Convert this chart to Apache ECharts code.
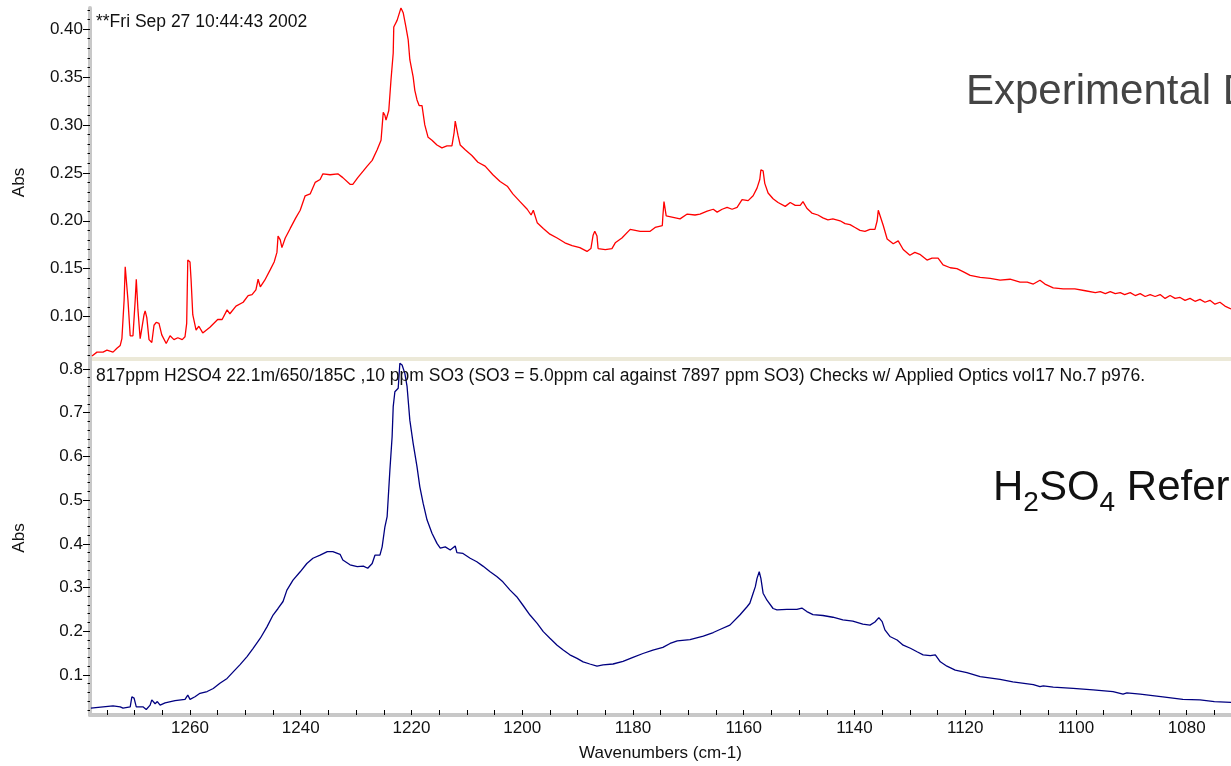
<!DOCTYPE html>
<html>
<head>
<meta charset="utf-8">
<title>H2SO4 IR spectra</title>
<script src="https://cdn.jsdelivr.net/npm/echarts@6/dist/echarts.min.js"></script>
<style>
  html, body { margin: 0; padding: 0; background: #fff; }
  #chart { width: 1231px; height: 766px; }
</style>
</head>
<body>
<div id="chart"></div>
<script>
// Experimental spectrum: [wavenumber (cm-1), absorbance]
const experimental = [
  [1277.7,0.059],[1276.8,0.063],[1275.7,0.063],[1275.0,0.065],[1273.9,0.063],[1273.2,0.067],[1272.6,0.070],[1272.3,0.077],
  [1271.9,0.117],[1271.7,0.152],[1271.4,0.152],[1271.2,0.117],[1270.8,0.080],[1270.3,0.080],[1269.9,0.117],[1269.7,0.139],
  [1269.6,0.139],[1269.4,0.107],[1269.0,0.077],[1268.7,0.077],[1268.3,0.102],[1268.1,0.106],[1267.8,0.099],[1267.4,0.076],
  [1266.9,0.073],[1266.5,0.091],[1266.1,0.094],[1265.6,0.093],[1265.1,0.081],[1264.3,0.072],[1263.6,0.080],[1262.9,0.076],
  [1262.2,0.078],[1261.4,0.076],[1260.9,0.079],[1260.6,0.093],[1260.4,0.159],[1260.0,0.157],[1259.8,0.138],[1259.5,0.102],
  [1258.9,0.086],[1258.4,0.090],[1257.7,0.083],[1256.4,0.089],[1255.0,0.097],[1254.2,0.097],[1253.3,0.107],[1252.8,0.103],
  [1251.7,0.111],[1250.4,0.115],[1249.5,0.122],[1248.8,0.123],[1248.1,0.128],[1247.7,0.139],[1247.3,0.131],[1246.5,0.138],
  [1245.5,0.149],[1244.8,0.157],[1244.3,0.167],[1244.1,0.184],[1243.7,0.180],[1243.4,0.172],[1242.8,0.182],[1241.9,0.192],
  [1240.9,0.203],[1240.1,0.211],[1239.2,0.226],[1238.3,0.228],[1237.4,0.240],[1236.5,0.243],[1236.0,0.249],[1234.7,0.248],
  [1233.3,0.249],[1232.4,0.245],[1231.1,0.238],[1230.6,0.238],[1229.7,0.245],[1228.7,0.252],[1228.0,0.257],[1227.1,0.263],
  [1226.2,0.274],[1225.5,0.284],[1225.1,0.313],[1224.8,0.310],[1224.6,0.305],[1224.1,0.315],[1223.7,0.347],[1223.3,0.375],
  [1223.2,0.402],[1222.6,0.409],[1222.3,0.409],[1221.9,0.422],[1221.5,0.417],[1221.0,0.402],[1220.6,0.389],[1220.3,0.368],
  [1219.7,0.350],[1219.4,0.336],[1219.0,0.326],[1218.6,0.320],[1218.1,0.320],[1217.6,0.300],[1217.0,0.287],[1216.3,0.284],
  [1215.4,0.279],[1214.5,0.276],[1213.6,0.278],[1212.7,0.278],[1212.3,0.292],[1212.1,0.304],[1211.8,0.304],[1211.6,0.289],
  [1211.2,0.279],[1210.3,0.274],[1209.1,0.268],[1208.0,0.261],[1206.7,0.257],[1205.3,0.248],[1204.0,0.241],[1202.7,0.236],
  [1201.7,0.228],[1200.4,0.220],[1199.1,0.212],[1198.4,0.206],[1198.0,0.211],[1197.7,0.209],[1197.3,0.198],[1196.2,0.192],
  [1195.0,0.186],[1193.7,0.182],[1192.3,0.177],[1191.0,0.174],[1189.6,0.172],[1188.3,0.168],[1187.6,0.171],[1187.2,0.185],
  [1186.9,0.189],[1186.5,0.184],[1186.3,0.171],[1185.0,0.170],[1183.8,0.171],[1183.2,0.177],[1182.0,0.182],[1180.5,0.191],
  [1178.7,0.189],[1176.9,0.189],[1176.0,0.193],[1174.7,0.195],[1174.6,0.205],[1174.4,0.220],[1174.2,0.218],[1174.0,0.205],
  [1173.7,0.203],[1171.5,0.202],[1170.2,0.207],[1168.8,0.206],[1167.9,0.207],[1166.6,0.210],[1165.5,0.212],[1164.8,0.209],
  [1163.9,0.212],[1163.0,0.214],[1162.1,0.212],[1161.2,0.214],[1160.3,0.222],[1159.2,0.221],[1158.3,0.226],[1157.6,0.234],
  [1157.1,0.243],[1156.9,0.253],[1156.5,0.252],[1156.2,0.239],[1155.6,0.229],[1154.7,0.223],[1153.8,0.219],[1152.5,0.215],
  [1151.6,0.219],[1150.7,0.216],[1149.8,0.216],[1149.3,0.220],[1148.6,0.213],[1147.7,0.208],[1146.6,0.206],[1145.7,0.203],
  [1144.8,0.201],[1143.9,0.202],[1142.6,0.200],[1141.7,0.197],[1140.8,0.196],[1139.9,0.193],[1139.0,0.190],[1138.1,0.189],
  [1137.2,0.191],[1136.3,0.191],[1135.9,0.200],[1135.7,0.211],[1135.4,0.211],[1134.8,0.195],[1134.1,0.181],[1133.0,0.176],
  [1132.1,0.179],[1131.2,0.170],[1130.0,0.164],[1129.1,0.167],[1128.2,0.165],[1126.9,0.159],[1126.0,0.161],[1124.9,0.161],
  [1124.0,0.154],[1122.7,0.151],[1121.5,0.150],[1120.4,0.147],[1119.1,0.143],[1117.3,0.141],[1115.5,0.140],[1113.7,0.138],
  [1111.9,0.139],[1110.1,0.136],[1108.8,0.136],[1107.7,0.134],[1106.5,0.138],[1105.6,0.134],[1104.1,0.130],[1102.3,0.129],
  [1100.2,0.129],[1098.3,0.127],[1096.5,0.125],[1095.6,0.126],[1094.7,0.124],[1093.8,0.126],[1092.9,0.124],[1092.0,0.125],
  [1091.2,0.123],[1090.2,0.125],[1089.3,0.122],[1088.4,0.124],[1087.5,0.121],[1086.6,0.123],[1085.7,0.121],[1084.8,0.123],
  [1083.9,0.119],[1083.0,0.122],[1082.1,0.119],[1081.2,0.120],[1080.3,0.117],[1079.4,0.119],[1078.5,0.116],[1077.6,0.118],
  [1076.7,0.115],[1075.8,0.117],[1074.9,0.113],[1074.0,0.115],[1073.1,0.111],[1072.0,0.108]
];

// H2SO4 reference spectrum: [wavenumber (cm-1), absorbance]
const reference = [
  [1277.9,0.024],[1275.7,0.027],[1273.9,0.029],[1272.6,0.027],[1272.1,0.024],[1270.8,0.027],[1270.5,0.050],[1270.1,0.047],
  [1269.7,0.027],[1268.5,0.027],[1267.9,0.021],[1267.2,0.031],[1266.9,0.043],[1266.3,0.034],[1265.9,0.039],[1265.4,0.031],
  [1264.5,0.036],[1262.7,0.041],[1260.9,0.044],[1260.4,0.054],[1260.0,0.044],[1259.1,0.050],[1258.2,0.058],[1256.9,0.062],
  [1255.8,0.069],[1254.6,0.081],[1253.3,0.092],[1252.2,0.107],[1251.0,0.123],[1249.7,0.142],[1248.6,0.161],[1247.3,0.184],
  [1246.1,0.210],[1245.0,0.237],[1244.1,0.252],[1243.2,0.268],[1242.5,0.294],[1241.4,0.317],[1240.1,0.336],[1238.9,0.355],
  [1237.8,0.367],[1236.5,0.374],[1235.2,0.382],[1234.2,0.382],[1232.9,0.376],[1232.4,0.363],[1231.1,0.352],[1229.8,0.348],
  [1228.7,0.349],[1227.9,0.344],[1227.1,0.355],[1226.6,0.374],[1225.7,0.374],[1225.3,0.393],[1224.8,0.439],[1224.4,0.462],
  [1223.9,0.569],[1223.5,0.645],[1223.3,0.714],[1223.0,0.748],[1222.4,0.756],[1222.1,0.813],[1221.7,0.809],[1221.2,0.790],
  [1220.8,0.760],[1220.3,0.683],[1219.7,0.630],[1219.0,0.576],[1218.5,0.531],[1217.9,0.493],[1217.2,0.455],[1216.3,0.424],
  [1215.4,0.401],[1214.8,0.390],[1213.9,0.393],[1213.0,0.386],[1212.1,0.395],[1211.8,0.380],[1210.7,0.378],[1209.4,0.367],
  [1208.2,0.359],[1207.1,0.349],[1205.8,0.336],[1204.6,0.325],[1203.5,0.313],[1202.2,0.294],[1201.0,0.279],[1199.9,0.260],
  [1198.6,0.237],[1197.3,0.218],[1196.2,0.199],[1195.0,0.184],[1193.7,0.168],[1192.6,0.157],[1191.4,0.146],[1190.1,0.138],
  [1189.0,0.130],[1187.8,0.125],[1186.5,0.120],[1185.4,0.123],[1183.6,0.125],[1181.8,0.131],[1180.0,0.140],[1178.2,0.149],
  [1176.4,0.157],[1174.6,0.163],[1173.3,0.172],[1172.0,0.178],[1169.7,0.181],[1167.3,0.189],[1165.5,0.197],[1164.3,0.204],
  [1162.5,0.214],[1160.7,0.237],[1159.4,0.256],[1158.9,0.264],[1158.3,0.287],[1157.9,0.302],[1157.6,0.321],[1157.2,0.336],
  [1156.9,0.321],[1156.5,0.287],[1155.8,0.271],[1154.7,0.252],[1154.0,0.249],[1152.2,0.250],[1150.4,0.250],[1149.5,0.253],
  [1148.6,0.245],[1147.5,0.238],[1145.7,0.236],[1143.9,0.232],[1142.1,0.226],[1140.3,0.223],[1138.5,0.216],[1137.2,0.214],
  [1136.3,0.221],[1135.6,0.231],[1135.0,0.222],[1134.5,0.203],[1133.6,0.188],[1132.3,0.180],[1131.2,0.168],[1129.9,0.161],
  [1128.7,0.153],[1127.6,0.146],[1126.3,0.144],[1125.4,0.146],[1124.5,0.130],[1123.3,0.120],[1121.8,0.111],[1119.7,0.105],
  [1117.3,0.096],[1113.7,0.090],[1111.4,0.084],[1107.7,0.078],[1106.5,0.073],[1105.9,0.075],[1104.1,0.072],[1100.5,0.069],
  [1096.9,0.066],[1093.3,0.062],[1091.5,0.056],[1090.8,0.059],[1088.4,0.056],[1084.3,0.050],[1080.7,0.044],[1077.6,0.043],
  [1075.0,0.039],[1072.0,0.037]
];

// Axis ranges and tick labels
const waveRange = [1072.0, 1278.06];
const expAbsRange = [0.0579, 0.4219];
const refAbsRange = [0.0083, 0.8183];
const waveLabels = [1260, 1240, 1220, 1200, 1180, 1160, 1140, 1120, 1100, 1080];
const expAbsLabels = [0.10, 0.15, 0.20, 0.25, 0.30, 0.35, 0.40];
const refAbsLabels = [0.1, 0.2, 0.3, 0.4, 0.5, 0.6, 0.7, 0.8];

function steps(from, to, step, digits) {
  const out = [];
  const n = Math.round((to - from) / step);
  for (let i = 0; i <= n; i++) out.push(+(from + i * step).toFixed(digits));
  return out;
}
const waveTicks = steps(1075, 1275, 5, 0);
const expAbsMinor = steps(0.06, 0.42, 0.01, 2);
const refAbsMinor = steps(0.02, 0.80, 0.02, 2);

const FONT = '"Liberation Sans", Arial, Helvetica, sans-serif';
const AXIS_GRAY = '#c8c8c8';

function majorY(gridIndex, range, labels, digits) {
  return {
    gridIndex, type: 'value', position: 'left', min: range[0], max: range[1],
    name: 'Abs', nameLocation: 'middle', nameGap: 62, nameRotate: 90,
    nameTextStyle: { fontFamily: FONT, fontSize: 17, color: '#111' },
    axisLine: { show: true, onZero: false, lineStyle: { color: AXIS_GRAY, width: 4 } },
    axisTick: { show: true, length: 7, customValues: labels, lineStyle: { color: '#000', width: 1 } },
    axisLabel: { customValues: labels, margin: 7, fontFamily: FONT, fontSize: 17, color: '#111',
                 formatter: v => v.toFixed(digits) },
    splitLine: { show: false }
  };
}
function minorY(gridIndex, range, ticks) {
  return {
    gridIndex, type: 'value', position: 'left', offset: 0, min: range[0], max: range[1],
    axisLine: { show: false },
    axisTick: { show: true, length: 2.5, customValues: ticks, lineStyle: { color: '#000', width: 1 } },
    axisLabel: { show: false },
    splitLine: { show: false }
  };
}

const chart = echarts.init(document.getElementById('chart'), null, { renderer: 'canvas' });

const option = {
  animation: false,
  backgroundColor: '#ffffff',
  grid: [
    { left: 90, right: 0, top: 8, height: 349 },
    { left: 90, right: 0, top: 361, height: 354 }
  ],
  xAxis: [
    { gridIndex: 0, type: 'value', min: waveRange[0], max: waveRange[1], inverse: true, show: false },
    {
      gridIndex: 1, type: 'value', min: waveRange[0], max: waveRange[1], inverse: true,
      name: 'Wavenumbers (cm-1)', nameLocation: 'middle', nameGap: 30,
      nameTextStyle: { fontFamily: FONT, fontSize: 17, color: '#111' },
      axisLine: { show: true, onZero: false, lineStyle: { color: AXIS_GRAY, width: 4 } },
      axisTick: { show: true, inside: true, length: 5, customValues: waveTicks, lineStyle: { color: '#000', width: 1 } },
      axisLabel: { customValues: waveLabels, margin: 5, fontFamily: FONT, fontSize: 17, color: '#111',
                   formatter: v => String(Math.round(v)) },
      splitLine: { show: false }
    }
  ],
  yAxis: [
    majorY(0, expAbsRange, expAbsLabels, 2),
    minorY(0, expAbsRange, expAbsMinor),
    majorY(1, refAbsRange, refAbsLabels, 1),
    minorY(1, refAbsRange, refAbsMinor)
  ],
  series: [
    {
      name: 'Experimental', type: 'line', xAxisIndex: 0, yAxisIndex: 0,
      data: experimental, showSymbol: false, symbol: 'none',
      lineStyle: { color: '#ff0000', width: 1.3 }, z: 3
    },
    {
      name: 'H2SO4 Reference', type: 'line', xAxisIndex: 1, yAxisIndex: 2,
      data: reference, showSymbol: false, symbol: 'none',
      lineStyle: { color: '#000080', width: 1.3 }, z: 3
    }
  ],
  graphic: [
    // divider between the two panes
    { type: 'rect', silent: true, z: 10, shape: { x: 92, y: 357, width: 1139, height: 4 }, style: { fill: '#ece9d8' } },
    { type: 'rect', silent: true, z: 10, shape: { x: 88, y: 356, width: 4, height: 6 }, style: { fill: AXIS_GRAY } },
    {
      type: 'text', z: 20, x: 96, y: 22,
      style: { text: '**Fri Sep 27 10:44:43 2002', font: '17.5px ' + FONT, fill: '#111', verticalAlign: 'middle' }
    },
    {
      type: 'text', z: 20, x: 96, y: 376,
      style: {
        text: '817ppm H2SO4 22.1m/650/185C ,10 ppm SO3 (SO3 = 5.0ppm cal against 7897 ppm SO3) Checks w/ Applied Optics vol17 No.7 p976.',
        font: '17.5px ' + FONT, fill: '#111', verticalAlign: 'middle'
      }
    },
    {
      type: 'text', z: 20, x: 966, y: 92,
      style: { text: 'Experimental Data', font: '42px ' + FONT, fill: '#444444', verticalAlign: 'middle' }
    },
    {
      type: 'text', z: 20, x: 993, y: 488,
      style: {
        text: '{m|H}{s|2}{m|SO}{s|4}{m| Reference}',
        verticalAlign: 'middle',
        rich: {
          m: { fontSize: 42, fontFamily: FONT, fill: '#111' },
          s: { fontSize: 28, fontFamily: FONT, fill: '#111', padding: [30, 0, 0, 0] }
        }
      }
    }
  ]
};

chart.setOption(option);
</script>
</body>
</html>
